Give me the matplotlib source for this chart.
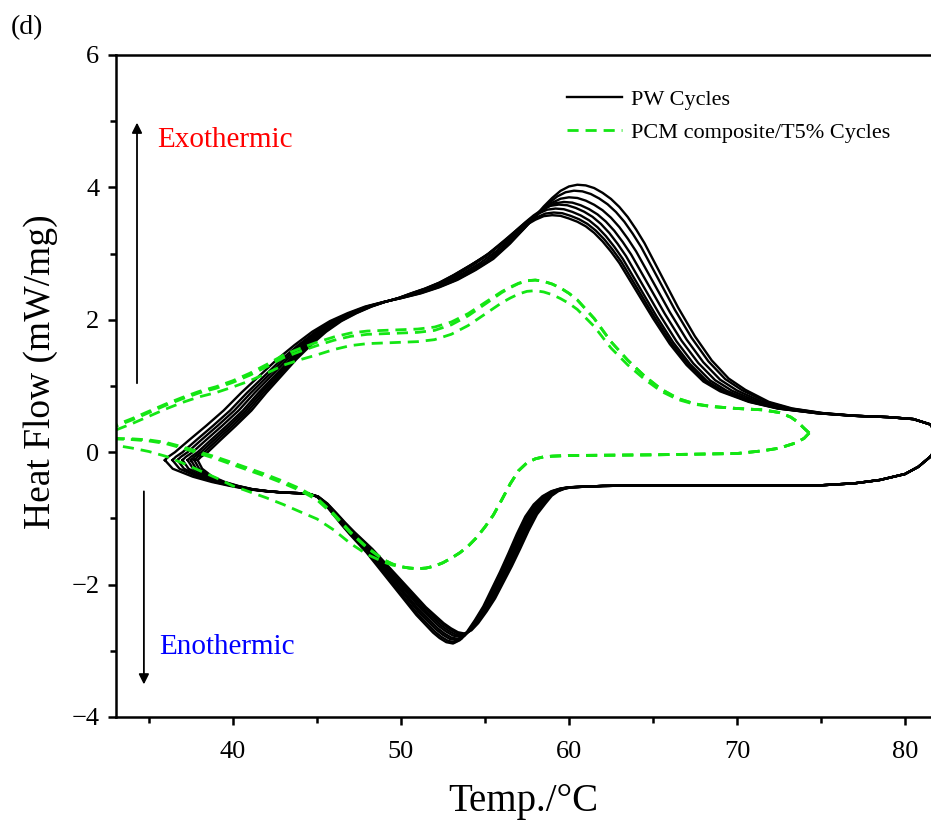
import numpy as np
import matplotlib
matplotlib.use('Agg')
import matplotlib.pyplot as plt

# PW cycles - cooling branch (exo), read right to left
pw_up_x = [82.0, 81.5, 80.5, 79.0, 77.0, 75.0, 73.0, 71.5, 70.0, 69.0, 68.0, 67.0, 66.0, 65.0,
           64.0, 63.5, 63.0, 62.5, 62.0, 61.5, 61.0, 60.5, 60.0, 59.5, 59.0, 58.5, 58.0, 57.5,
           57.0, 56.0, 55.0, 54.0, 53.0, 52.0, 51.0, 50.0, 49.0, 48.0, 47.0, 46.0, 45.0, 44.0,
           43.0, 42.0, 41.0, 40.0, 39.0, 38.0, 37.2, 36.8, 36.6]
pw_up_y = [0.25, 0.42, 0.50, 0.53, 0.55, 0.59, 0.66, 0.76, 0.93, 1.09, 1.35, 1.69, 2.10, 2.55,
           3.00, 3.19, 3.36, 3.50, 3.61, 3.69, 3.75, 3.79, 3.80, 3.78, 3.72, 3.63, 3.52, 3.40,
           3.28, 3.05, 2.86, 2.71, 2.58, 2.48, 2.40, 2.33, 2.27, 2.20, 2.10, 1.98, 1.82, 1.62,
           1.40, 1.15, 0.90, 0.63, 0.40, 0.18, 0.00, -0.07, -0.12]

# PW cycles - heating branch (endo), read left to right
pw_lo_x = [36.6, 37.0, 38.0, 39.0, 40.0, 41.0, 42.0, 43.0, 44.0, 44.5, 45.0, 45.5, 46.0, 46.5,
           47.0, 48.0, 49.0, 50.0, 51.0, 52.0, 52.4, 52.8, 53.2, 53.6, 54.0, 54.5, 55.0, 55.5,
           56.0, 56.5, 57.0, 57.5, 58.0, 58.5, 59.0, 59.5, 60.0, 62.0, 65.0, 70.0, 75.0, 77.0,
           78.5, 80.0, 80.8, 81.5, 82.0]
pw_lo_y = [-0.12, -0.25, -0.37, -0.45, -0.51, -0.56, -0.59, -0.61, -0.62, -0.63, -0.67, -0.78,
           -0.93, -1.08, -1.22, -1.48, -1.78, -2.08, -2.38, -2.63, -2.71, -2.77, -2.79, -2.74,
           -2.63, -2.45, -2.25, -2.00, -1.75, -1.48, -1.20, -0.95, -0.78, -0.66, -0.59, -0.55,
           -0.53, -0.51, -0.50, -0.50, -0.50, -0.47, -0.42, -0.33, -0.22, -0.07, 0.10]

# per-cycle drift of the 8 PW runs
pw_tip_dx = [-0.65, -0.2, 0.1, 0.4, 0.7, 0.9, 1.1, 1.3]
pw_peak_dx = [0.5, 0.3, 0.0, -0.3, -0.6, -0.8, -0.9, -1.0]
pw_peak_y = [4.04, 3.95, 3.85, 3.78, 3.74, 3.68, 3.62, 3.58]
pw_dip_dx = [-0.1, 0.0, 0.1, 0.2, 0.3, 0.4, 0.5, 0.6]
pw_dip_dy = [-0.10, -0.08, -0.05, -0.03, 0.0, 0.02, 0.04, 0.05]

# PCM composite/T5% cycles - cooling branch, right to left
pcm_up_x = [74.3, 74.0, 73.6, 73.2, 72.5, 71.5, 70.0, 68.5, 67.5, 66.5, 65.5, 64.5, 63.5, 62.5,
            61.5, 60.5, 60.0, 59.5, 59.0, 58.5, 58.0, 57.5, 57.0, 56.5, 56.0, 55.0, 54.0, 53.0,
            52.0, 51.0, 50.0, 49.0, 48.0, 47.0, 46.0, 45.0, 44.0, 43.0, 42.0, 41.0, 40.0, 39.0,
            38.0, 37.0, 36.0, 35.0, 34.0, 33.0, 32.5]
pcm_up_y = [0.29, 0.36, 0.46, 0.53, 0.60, 0.64, 0.66, 0.69, 0.73, 0.81, 0.95, 1.15, 1.39, 1.67,
            2.02, 2.30, 2.40, 2.48, 2.54, 2.58, 2.60, 2.59, 2.55, 2.49, 2.42, 2.25, 2.08, 1.95,
            1.87, 1.84, 1.83, 1.82, 1.81, 1.78, 1.72, 1.64, 1.55, 1.45, 1.31, 1.18, 1.07, 0.98,
            0.91, 0.82, 0.72, 0.61, 0.50, 0.40, 0.32]

# PCM composite/T5% cycles - heating branch, left to right
pcm_lo_x = [32.5, 33.0, 34.0, 35.0, 36.0, 37.0, 38.0, 39.0, 40.0, 41.0, 42.0, 43.0, 44.0, 45.0,
            46.0, 47.0, 48.0, 49.0, 49.5, 50.0, 50.5, 51.0, 51.5, 52.0, 52.5, 53.0, 53.5, 54.0,
            54.5, 55.0, 55.5, 56.0, 56.5, 57.0, 57.5, 58.0, 58.5, 59.0, 60.0, 65.0, 70.0, 71.5,
            72.5, 73.5, 74.0, 74.3]
pcm_lo_y = [0.21, 0.20, 0.19, 0.17, 0.13, 0.06, -0.02, -0.10, -0.19, -0.28, -0.37, -0.47, -0.58,
            -0.72, -0.95, -1.22, -1.45, -1.63, -1.69, -1.73, -1.75, -1.76, -1.75, -1.72, -1.67,
            -1.60, -1.52, -1.42, -1.29, -1.13, -0.95, -0.72, -0.48, -0.28, -0.16, -0.10, -0.07,
            -0.06, -0.05, -0.04, -0.02, 0.02, 0.06, 0.14, 0.21, 0.29]

# per-cycle drift of the 3 PCM runs
pcm_peak_dy = [0.0, 0.0, -0.16]
pcm_mid_dy = [0.02, -0.03, -0.17]
pcm_lo_dy = [0.0, 0.03, -0.32]


def weight(x, kx, kw):
    # how strongly each point follows the cycle-to-cycle drift
    return np.interp(x, kx, kw)


pw_up_wtip = weight(pw_up_x, [36.6, 37.2, 40, 44, 50, 51], [1, 1, 0.85, 0.5, 0.05, 0])
pw_up_wpk = weight(pw_up_x, [48, 50, 52, 54, 55, 70, 71.5, 73, 75, 77, 79],
                   [0, 0.2, 0.6, 0.9, 1, 1, 0.8, 0.6, 0.3, 0.1, 0])
pw_up_wbump = weight(pw_up_x, [51, 53, 55, 57, 58, 59, 60, 61, 62, 63, 64, 65, 66, 67, 68, 69, 70, 71],
                     [0, 0.1, 0.25, 0.6, 0.8, 0.95, 1, 1, 0.9, 0.8, 0.65, 0.5, 0.35, 0.25, 0.15,
                      0.1, 0.05, 0])
pw_lo_wtip = weight(pw_lo_x, [36.6, 37, 38, 39, 40, 41, 42, 43, 44],
                    [1, 0.9, 0.6, 0.4, 0.25, 0.15, 0.1, 0.05, 0])
pw_lo_wdx = weight(pw_lo_x, [44, 44.8, 46, 48, 50, 52, 52.6, 58, 58.5, 59, 60, 62],
                   [0, 0.1, 0.3, 0.5, 0.7, 0.9, 1, 1, 0.8, 0.6, 0.3, 0])
pw_lo_wdy = weight(pw_lo_x, [45, 46, 48, 50, 52, 52.6, 53.7, 55, 57, 58, 59],
                   [0, 0.1, 0.35, 0.65, 0.95, 1, 1, 0.8, 0.35, 0.1, 0])
pcm_up_wpk = weight(pcm_up_x[::-1], [52, 53, 55, 57, 58, 59.5, 60.5, 62.5, 64.5, 66.5, 68.5],
                    [0, 0.15, 0.5, 0.9, 1, 1, 0.9, 0.6, 0.3, 0.1, 0])[::-1]
pcm_up_wmid = weight(pcm_up_x[::-1], [33, 37, 40, 42, 44, 45, 52, 53, 55, 57, 58],
                     [0.4, 0.4, 0.5, 0.7, 0.9, 1, 1, 0.85, 0.5, 0.1, 0])[::-1]
pcm_lo_w = weight(pcm_lo_x, [33, 35, 38, 40, 44, 45, 46, 47, 48, 49, 50],
                  [0.3, 0.5, 0.8, 1, 1, 0.9, 0.7, 0.5, 0.3, 0.1, 0])

plt.rcParams['font.family'] = ['Liberation Serif', 'DejaVu Serif']

fig = plt.figure(figsize=(9.31, 8.23), dpi=100)
ax = fig.add_axes([0.1246, 0.1288, 0.8754, 0.8044])

green = '#14e614'
dash = (0, (4, 2.5))

for i in range(len(pw_tip_dx)):
    ux = np.array(pw_up_x) + pw_tip_dx[i] * pw_up_wtip + pw_peak_dx[i] * pw_up_wpk
    uy = np.array(pw_up_y) + (pw_peak_y[i] - 3.80) * pw_up_wbump
    lx = np.array(pw_lo_x) + pw_tip_dx[i] * pw_lo_wtip + pw_dip_dx[i] * pw_lo_wdx
    ly = np.array(pw_lo_y) + pw_dip_dy[i] * pw_lo_wdy
    ax.plot(np.concatenate([lx, ux]), np.concatenate([ly, uy]), color='black', lw=1.7,
            solid_joinstyle='round', label='PW Cycles' if i == 0 else None)

# both green branches are drawn starting at the hot end so the dashes line up
for i in range(len(pcm_peak_dy)):
    uy = np.array(pcm_up_y) + pcm_peak_dy[i] * pcm_up_wpk + pcm_mid_dy[i] * pcm_up_wmid
    ly = np.array(pcm_lo_y) + pcm_lo_dy[i] * pcm_lo_w
    ax.plot(pcm_lo_x[::-1], ly[::-1], color=green, lw=2.0, linestyle=dash)
    ax.plot(pcm_up_x, uy, color=green, lw=2.0, linestyle=dash,
            label='PCM composite/T5% Cycles' if i == 0 else None)

ax.set_xlim(33.04, 81.55)
ax.set_ylim(-4, 6)
ax.set_xticks([40, 50, 60, 70, 80])
ax.set_xticks([35, 45, 55, 65, 75], minor=True)
ax.set_yticks([-4, -2, 0, 2, 4, 6])
ax.set_yticks([-3, -1, 1, 3, 5], minor=True)
ax.spines['right'].set_visible(False)
for s in ['left', 'top', 'bottom']:
    ax.spines[s].set_linewidth(1.8)
ax.tick_params(which='major', direction='out', length=6, width=1.8, labelsize=19, pad=6)
ax.tick_params(axis='x', which='major', pad=11)
ax.tick_params(which='minor', direction='out', length=4, width=1.8)

ax.set_xlabel('Temp./°C', fontsize=28, labelpad=15)
ax.set_ylabel('Heat Flow (mW/mg)', fontsize=27)
ax.yaxis.set_label_coords(-0.071, 0.521)

# exo / endo arrows
ax.annotate('', xy=(34.29, 5.02), xytext=(34.29, 1.0),
            arrowprops=dict(arrowstyle='-|>', color='black', lw=1.3, mutation_scale=15))
ax.annotate('', xy=(34.7, -3.55), xytext=(34.7, -0.55),
            arrowprops=dict(arrowstyle='-|>', color='black', lw=1.3, mutation_scale=15))
ax.text(35.5, 4.72, 'Exothermic', color='red', fontsize=21, va='center')
ax.text(35.6, -2.94, 'Enothermic', color='blue', fontsize=21, va='center')

ax.legend(loc='upper left', bbox_to_anchor=(0.553, 0.948), frameon=False, fontsize=16,
          handlelength=2.5, handletextpad=0.4, labelspacing=0.55, borderpad=0, borderaxespad=0)

fig.text(0.012, 0.967, '(d)', fontsize=20, va='center')

fig.savefig('out.png', dpi=100)
